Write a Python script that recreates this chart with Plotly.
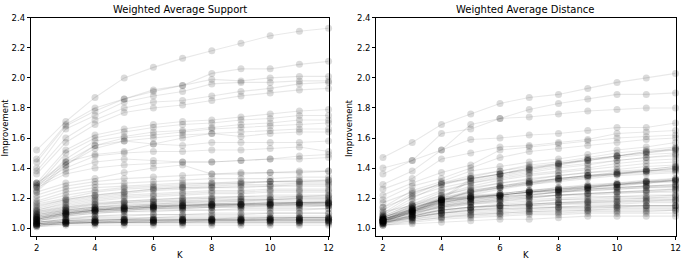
import plotly.graph_objects as go

K = [2, 3, 4, 5, 6, 7, 8, 9, 10, 11, 12]
x_ticks = [2, 4, 6, 8, 10, 12]
y_ticks = [1.0, 1.2, 1.4, 1.6, 1.8, 2.0, 2.2, 2.4]
titles = ["Weighted Average Support", "Weighted Average Distance"]

support = [
    [1.52, 1.71, 1.87, 2.00, 2.07, 2.13, 2.18, 2.23, 2.28, 2.31, 2.33],
    [1.46, 1.69, 1.80, 1.86, 1.92, 1.95, 2.03, 2.06, 2.06, 2.09, 2.11],
    [1.44, 1.68, 1.78, 1.86, 1.91, 1.95, 1.99, 1.98, 2.00, 2.01, 2.01],
    [1.40, 1.66, 1.75, 1.84, 1.88, 1.91, 1.96, 1.97, 1.97, 1.98, 1.98],
    [1.38, 1.60, 1.72, 1.80, 1.84, 1.85, 1.88, 1.91, 1.93, 1.96, 1.97],
    [1.36, 1.57, 1.69, 1.77, 1.80, 1.82, 1.85, 1.88, 1.90, 1.92, 1.93],
    [1.30, 1.52, 1.62, 1.66, 1.69, 1.71, 1.72, 1.74, 1.76, 1.78, 1.79],
    [1.28, 1.50, 1.60, 1.64, 1.67, 1.69, 1.70, 1.72, 1.73, 1.75, 1.75],
    [1.27, 1.46, 1.58, 1.61, 1.64, 1.65, 1.67, 1.69, 1.70, 1.72, 1.72],
    [1.25, 1.44, 1.55, 1.60, 1.62, 1.64, 1.66, 1.67, 1.68, 1.69, 1.70],
    [1.24, 1.42, 1.53, 1.58, 1.60, 1.62, 1.63, 1.64, 1.65, 1.66, 1.66],
    [1.30, 1.44, 1.49, 1.51, 1.56, 1.60, 1.63, 1.61, 1.63, 1.64, 1.64],
    [1.30, 1.42, 1.55, 1.58, 1.56, 1.55, 1.57, 1.57, 1.57, 1.57, 1.58],
    [1.29, 1.40, 1.48, 1.50, 1.51, 1.51, 1.52, 1.52, 1.53, 1.54, 1.51],
    [1.28, 1.38, 1.44, 1.46, 1.45, 1.44, 1.44, 1.45, 1.46, 1.48, 1.49],
    [1.27, 1.36, 1.40, 1.42, 1.43, 1.44, 1.44, 1.45, 1.46, 1.46, 1.47],
    [1.24, 1.30, 1.33, 1.37, 1.40, 1.42, 1.36, 1.37, 1.37, 1.38, 1.38],
    [1.22, 1.28, 1.31, 1.33, 1.34, 1.35, 1.36, 1.36, 1.37, 1.37, 1.38],
    [1.20, 1.26, 1.29, 1.30, 1.31, 1.32, 1.33, 1.33, 1.33, 1.34, 1.34],
    [1.18, 1.24, 1.27, 1.28, 1.29, 1.30, 1.30, 1.31, 1.31, 1.32, 1.32],
    [1.17, 1.22, 1.25, 1.27, 1.28, 1.29, 1.30, 1.30, 1.31, 1.31, 1.31],
    [1.16, 1.20, 1.24, 1.26, 1.27, 1.28, 1.29, 1.30, 1.31, 1.31, 1.32],
    [1.15, 1.19, 1.22, 1.24, 1.26, 1.27, 1.27, 1.28, 1.28, 1.29, 1.29],
    [1.14, 1.19, 1.22, 1.24, 1.26, 1.27, 1.28, 1.29, 1.29, 1.30, 1.30],
    [1.13, 1.18, 1.21, 1.23, 1.25, 1.26, 1.27, 1.27, 1.28, 1.28, 1.28],
    [1.12, 1.17, 1.20, 1.22, 1.23, 1.24, 1.25, 1.25, 1.26, 1.26, 1.26],
    [1.12, 1.16, 1.19, 1.21, 1.22, 1.23, 1.24, 1.24, 1.25, 1.25, 1.25],
    [1.11, 1.15, 1.18, 1.20, 1.21, 1.22, 1.23, 1.23, 1.24, 1.24, 1.24],
    [1.11, 1.14, 1.17, 1.18, 1.19, 1.20, 1.21, 1.21, 1.22, 1.22, 1.22],
    [1.10, 1.14, 1.16, 1.18, 1.19, 1.20, 1.20, 1.21, 1.21, 1.21, 1.22],
    [1.10, 1.13, 1.15, 1.17, 1.18, 1.18, 1.19, 1.19, 1.19, 1.20, 1.20],
    [1.09, 1.13, 1.16, 1.17, 1.18, 1.19, 1.20, 1.20, 1.20, 1.21, 1.21],
    [1.09, 1.12, 1.14, 1.15, 1.16, 1.17, 1.17, 1.18, 1.18, 1.18, 1.18],
    [1.08, 1.12, 1.14, 1.16, 1.17, 1.18, 1.18, 1.19, 1.19, 1.20, 1.20],
    [1.09, 1.12, 1.14, 1.15, 1.16, 1.17, 1.18, 1.18, 1.19, 1.19, 1.19],
    [1.08, 1.11, 1.13, 1.14, 1.15, 1.16, 1.16, 1.17, 1.17, 1.17, 1.18],
    [1.08, 1.11, 1.13, 1.14, 1.15, 1.16, 1.16, 1.16, 1.17, 1.17, 1.17],
    [1.07, 1.11, 1.13, 1.14, 1.15, 1.15, 1.16, 1.16, 1.17, 1.17, 1.17],
    [1.07, 1.10, 1.12, 1.14, 1.15, 1.15, 1.16, 1.16, 1.16, 1.17, 1.17],
    [1.07, 1.10, 1.12, 1.13, 1.14, 1.15, 1.16, 1.16, 1.16, 1.16, 1.17],
    [1.07, 1.10, 1.12, 1.13, 1.14, 1.14, 1.15, 1.15, 1.16, 1.16, 1.16],
    [1.06, 1.10, 1.12, 1.13, 1.14, 1.15, 1.15, 1.16, 1.16, 1.17, 1.17],
    [1.06, 1.10, 1.12, 1.13, 1.14, 1.14, 1.15, 1.15, 1.15, 1.16, 1.16],
    [1.06, 1.09, 1.12, 1.13, 1.14, 1.15, 1.15, 1.16, 1.16, 1.16, 1.16],
    [1.06, 1.09, 1.11, 1.12, 1.13, 1.13, 1.14, 1.14, 1.14, 1.14, 1.15],
    [1.06, 1.09, 1.11, 1.12, 1.13, 1.14, 1.14, 1.15, 1.15, 1.15, 1.15],
    [1.05, 1.09, 1.11, 1.12, 1.13, 1.13, 1.14, 1.14, 1.15, 1.15, 1.15],
    [1.05, 1.08, 1.10, 1.11, 1.11, 1.12, 1.12, 1.12, 1.12, 1.12, 1.13],
    [1.05, 1.08, 1.10, 1.11, 1.12, 1.12, 1.12, 1.13, 1.13, 1.13, 1.13],
    [1.05, 1.07, 1.08, 1.09, 1.09, 1.09, 1.10, 1.10, 1.10, 1.10, 1.10],
    [1.04, 1.06, 1.08, 1.08, 1.09, 1.09, 1.09, 1.09, 1.10, 1.10, 1.10],
    [1.04, 1.06, 1.07, 1.07, 1.07, 1.08, 1.08, 1.08, 1.08, 1.08, 1.08],
    [1.03, 1.05, 1.06, 1.06, 1.07, 1.07, 1.07, 1.07, 1.07, 1.07, 1.07],
    [1.04, 1.05, 1.06, 1.06, 1.06, 1.06, 1.06, 1.07, 1.07, 1.07, 1.07],
    [1.04, 1.06, 1.06, 1.06, 1.06, 1.06, 1.06, 1.06, 1.06, 1.06, 1.06],
    [1.04, 1.05, 1.05, 1.06, 1.06, 1.06, 1.06, 1.06, 1.06, 1.07, 1.07],
    [1.03, 1.05, 1.05, 1.06, 1.06, 1.06, 1.06, 1.06, 1.07, 1.07, 1.07],
    [1.02, 1.04, 1.05, 1.05, 1.05, 1.06, 1.06, 1.06, 1.06, 1.06, 1.06],
    [1.03, 1.04, 1.05, 1.05, 1.05, 1.05, 1.06, 1.06, 1.06, 1.06, 1.06],
    [1.03, 1.04, 1.04, 1.05, 1.05, 1.05, 1.05, 1.05, 1.06, 1.06, 1.06],
    [1.01, 1.03, 1.04, 1.04, 1.04, 1.05, 1.05, 1.05, 1.05, 1.05, 1.05],
    [1.02, 1.04, 1.04, 1.05, 1.05, 1.05, 1.05, 1.05, 1.05, 1.05, 1.05],
    [1.03, 1.04, 1.04, 1.04, 1.05, 1.05, 1.05, 1.05, 1.05, 1.05, 1.05],
    [1.02, 1.03, 1.04, 1.04, 1.04, 1.04, 1.05, 1.05, 1.05, 1.05, 1.05],
    [1.02, 1.03, 1.04, 1.04, 1.04, 1.04, 1.04, 1.04, 1.04, 1.04, 1.04],
    [1.03, 1.04, 1.04, 1.04, 1.04, 1.04, 1.04, 1.04, 1.04, 1.04, 1.04],
    [1.02, 1.03, 1.03, 1.04, 1.04, 1.04, 1.04, 1.04, 1.04, 1.04, 1.04],
    [1.02, 1.03, 1.03, 1.03, 1.03, 1.03, 1.03, 1.03, 1.03, 1.03, 1.03],
    [1.01, 1.02, 1.02, 1.02, 1.02, 1.02, 1.02, 1.02, 1.02, 1.02, 1.02],
]

distance = [
    [1.47, 1.57, 1.69, 1.76, 1.83, 1.87, 1.89, 1.93, 1.97, 2.00, 2.03],
    [1.40, 1.45, 1.63, 1.66, 1.73, 1.79, 1.83, 1.86, 1.89, 1.89, 1.90],
    [1.36, 1.45, 1.52, 1.69, 1.73, 1.74, 1.76, 1.78, 1.79, 1.80, 1.80],
    [1.29, 1.38, 1.52, 1.59, 1.60, 1.62, 1.63, 1.65, 1.67, 1.67, 1.70],
    [1.26, 1.33, 1.46, 1.50, 1.54, 1.55, 1.57, 1.59, 1.63, 1.64, 1.65],
    [1.22, 1.30, 1.37, 1.42, 1.52, 1.54, 1.56, 1.58, 1.60, 1.61, 1.62],
    [1.19, 1.28, 1.33, 1.40, 1.47, 1.51, 1.53, 1.55, 1.57, 1.59, 1.60],
    [1.14, 1.25, 1.31, 1.38, 1.41, 1.44, 1.46, 1.49, 1.52, 1.54, 1.57],
    [1.12, 1.23, 1.30, 1.35, 1.38, 1.42, 1.44, 1.47, 1.50, 1.52, 1.54],
    [1.10, 1.22, 1.30, 1.33, 1.36, 1.40, 1.43, 1.46, 1.48, 1.51, 1.53],
    [1.09, 1.20, 1.29, 1.33, 1.36, 1.39, 1.42, 1.45, 1.48, 1.50, 1.52],
    [1.06, 1.13, 1.20, 1.33, 1.36, 1.39, 1.43, 1.45, 1.48, 1.51, 1.52],
    [1.07, 1.14, 1.19, 1.32, 1.36, 1.40, 1.42, 1.46, 1.48, 1.50, 1.53],
    [1.17, 1.24, 1.29, 1.34, 1.38, 1.41, 1.43, 1.45, 1.47, 1.49, 1.50],
    [1.08, 1.16, 1.24, 1.30, 1.34, 1.37, 1.40, 1.42, 1.45, 1.47, 1.49],
    [1.14, 1.21, 1.27, 1.31, 1.35, 1.38, 1.41, 1.43, 1.45, 1.47, 1.48],
    [1.09, 1.18, 1.25, 1.30, 1.33, 1.36, 1.38, 1.40, 1.43, 1.45, 1.46],
    [1.07, 1.15, 1.22, 1.28, 1.32, 1.35, 1.37, 1.39, 1.41, 1.43, 1.44],
    [1.08, 1.16, 1.22, 1.26, 1.30, 1.32, 1.35, 1.37, 1.39, 1.41, 1.42],
    [1.05, 1.13, 1.19, 1.23, 1.27, 1.30, 1.32, 1.34, 1.36, 1.39, 1.41],
    [1.07, 1.15, 1.21, 1.27, 1.30, 1.33, 1.35, 1.37, 1.38, 1.39, 1.41],
    [1.07, 1.14, 1.19, 1.24, 1.27, 1.30, 1.33, 1.35, 1.36, 1.38, 1.40],
    [1.06, 1.13, 1.19, 1.24, 1.28, 1.30, 1.33, 1.35, 1.36, 1.38, 1.40],
    [1.06, 1.13, 1.20, 1.25, 1.28, 1.31, 1.33, 1.35, 1.37, 1.38, 1.39],
    [1.05, 1.12, 1.18, 1.25, 1.28, 1.31, 1.33, 1.35, 1.37, 1.38, 1.39],
    [1.06, 1.12, 1.18, 1.22, 1.26, 1.29, 1.32, 1.34, 1.36, 1.37, 1.38],
    [1.11, 1.15, 1.20, 1.24, 1.27, 1.29, 1.31, 1.33, 1.35, 1.36, 1.37],
    [1.07, 1.13, 1.19, 1.22, 1.23, 1.25, 1.27, 1.28, 1.30, 1.31, 1.33],
    [1.06, 1.12, 1.17, 1.21, 1.23, 1.25, 1.27, 1.29, 1.30, 1.32, 1.33],
    [1.06, 1.12, 1.19, 1.21, 1.22, 1.24, 1.26, 1.28, 1.29, 1.31, 1.32],
    [1.05, 1.11, 1.18, 1.20, 1.22, 1.24, 1.25, 1.27, 1.29, 1.30, 1.32],
    [1.06, 1.11, 1.19, 1.21, 1.22, 1.24, 1.26, 1.27, 1.29, 1.30, 1.32],
    [1.04, 1.11, 1.18, 1.21, 1.22, 1.24, 1.26, 1.27, 1.29, 1.31, 1.32],
    [1.05, 1.10, 1.17, 1.20, 1.23, 1.25, 1.26, 1.28, 1.29, 1.31, 1.31],
    [1.05, 1.12, 1.19, 1.20, 1.22, 1.24, 1.25, 1.27, 1.28, 1.30, 1.31],
    [1.06, 1.11, 1.16, 1.19, 1.21, 1.23, 1.24, 1.26, 1.27, 1.28, 1.29],
    [1.04, 1.11, 1.17, 1.20, 1.22, 1.24, 1.25, 1.26, 1.27, 1.28, 1.29],
    [1.04, 1.09, 1.15, 1.18, 1.20, 1.22, 1.24, 1.26, 1.27, 1.28, 1.28],
    [1.05, 1.11, 1.16, 1.19, 1.21, 1.22, 1.24, 1.25, 1.26, 1.27, 1.28],
    [1.08, 1.12, 1.17, 1.20, 1.21, 1.22, 1.24, 1.25, 1.26, 1.27, 1.27],
    [1.04, 1.08, 1.13, 1.16, 1.18, 1.20, 1.22, 1.23, 1.24, 1.25, 1.26],
    [1.03, 1.09, 1.14, 1.17, 1.19, 1.21, 1.22, 1.23, 1.24, 1.25, 1.26],
    [1.05, 1.10, 1.15, 1.18, 1.20, 1.21, 1.22, 1.23, 1.24, 1.24, 1.25],
    [1.05, 1.10, 1.14, 1.17, 1.19, 1.20, 1.22, 1.22, 1.23, 1.24, 1.24],
    [1.03, 1.08, 1.12, 1.14, 1.16, 1.17, 1.19, 1.20, 1.21, 1.21, 1.22],
    [1.06, 1.11, 1.15, 1.17, 1.18, 1.19, 1.20, 1.21, 1.21, 1.22, 1.22],
    [1.04, 1.07, 1.11, 1.13, 1.15, 1.16, 1.17, 1.18, 1.19, 1.20, 1.21],
    [1.05, 1.10, 1.14, 1.16, 1.17, 1.18, 1.19, 1.19, 1.20, 1.20, 1.20],
    [1.05, 1.09, 1.12, 1.14, 1.15, 1.16, 1.17, 1.17, 1.18, 1.18, 1.19],
    [1.04, 1.08, 1.12, 1.14, 1.15, 1.16, 1.17, 1.18, 1.18, 1.19, 1.19],
    [1.03, 1.07, 1.10, 1.12, 1.14, 1.15, 1.16, 1.17, 1.17, 1.18, 1.18],
    [1.05, 1.08, 1.12, 1.14, 1.15, 1.15, 1.16, 1.16, 1.16, 1.17, 1.17],
    [1.04, 1.07, 1.10, 1.12, 1.13, 1.14, 1.14, 1.15, 1.15, 1.15, 1.15],
    [1.04, 1.07, 1.10, 1.11, 1.12, 1.13, 1.14, 1.14, 1.15, 1.15, 1.15],
    [1.05, 1.08, 1.10, 1.12, 1.13, 1.13, 1.14, 1.14, 1.14, 1.15, 1.15],
    [1.03, 1.06, 1.09, 1.10, 1.11, 1.12, 1.13, 1.13, 1.14, 1.14, 1.14],
    [1.02, 1.05, 1.07, 1.09, 1.10, 1.11, 1.12, 1.12, 1.13, 1.13, 1.13],
    [1.04, 1.06, 1.08, 1.09, 1.10, 1.11, 1.11, 1.12, 1.12, 1.12, 1.12],
    [1.03, 1.05, 1.07, 1.08, 1.09, 1.10, 1.10, 1.11, 1.11, 1.11, 1.12],
    [1.02, 1.04, 1.06, 1.07, 1.08, 1.09, 1.09, 1.10, 1.10, 1.10, 1.10],
    [1.02, 1.03, 1.04, 1.05, 1.06, 1.06, 1.07, 1.08, 1.08, 1.08, 1.08],
]

W, H = 685, 260
FONT = "DejaVu Sans"
line_rgba = "rgba(0,0,0,0.09)"
mark_rgba = "rgba(0,0,0,0.14)"

fig = go.Figure()

panels = [(support, "x", "y"), (distance, "x2", "y2")]
for data, xa, ya in panels:
    for series in data:
        fig.add_trace(go.Scatter(
            x=K, y=series, xaxis=xa, yaxis=ya, mode="lines+markers",
            line=dict(color=line_rgba, width=1.1),
            marker=dict(color=mark_rgba, size=7, line=dict(width=0)),
            showlegend=False, hoverinfo="skip", cliponaxis=False,
        ))

def px_x(p):
    return p / W

def px_y(p):
    return 1 - p / H

axis_common = dict(
    showgrid=False, zeroline=False, showline=True, linecolor="black",
    linewidth=1, mirror=True, ticks="outside", ticklen=3, tickwidth=1,
    tickcolor="black", tickfont=dict(family=FONT, size=8.5, color="black"),
)

dom1 = [px_x(31), px_x(331)]
dom2 = [px_x(379), px_x(680.5)]
ydom = [px_y(236), px_y(13)]

fig.update_layout(
    width=W, height=H, margin=dict(l=0, r=0, t=0, b=0),
    paper_bgcolor="white", plot_bgcolor="white",
    xaxis=dict(domain=dom1, range=[1.8, 12.0001], tickvals=x_ticks, anchor="y", **axis_common),
    yaxis=dict(domain=ydom, range=[0.945, 2.4001], tickvals=y_ticks, tickformat=".1f", anchor="x", **axis_common),
    xaxis2=dict(domain=dom2, range=[1.77, 12.0001], tickvals=x_ticks, anchor="y2", **axis_common),
    yaxis2=dict(domain=ydom, range=[0.945, 2.4001], tickvals=y_ticks, tickformat=".1f", anchor="x2", **axis_common),
)

ann = []
for dom, t in zip([dom1, dom2], titles):
    cx = (dom[0] + dom[1]) / 2
    ann.append(dict(text=t, x=cx, y=px_y(5), xref="paper", yref="paper",
                    showarrow=False, xanchor="center", yanchor="middle",
                    font=dict(family=FONT, size=10, color="black")))
    ann.append(dict(text="K", x=cx, y=px_y(254.5), xref="paper", yref="paper",
                    showarrow=False, xanchor="center", yanchor="middle",
                    font=dict(family=FONT, size=8.5, color="black")))
for xp in [5, 351]:
    ann.append(dict(text="Improvement", x=px_x(xp), y=px_y(125), xref="paper", yref="paper",
                    showarrow=False, xanchor="center", yanchor="middle", textangle=-90,
                    font=dict(family=FONT, size=8.5, color="black")))
fig.update_layout(annotations=ann)

fig.write_html("out.html", config={"displayModeBar": False},
               post_script="document.body.style.margin='0';document.body.style.padding='0';")
